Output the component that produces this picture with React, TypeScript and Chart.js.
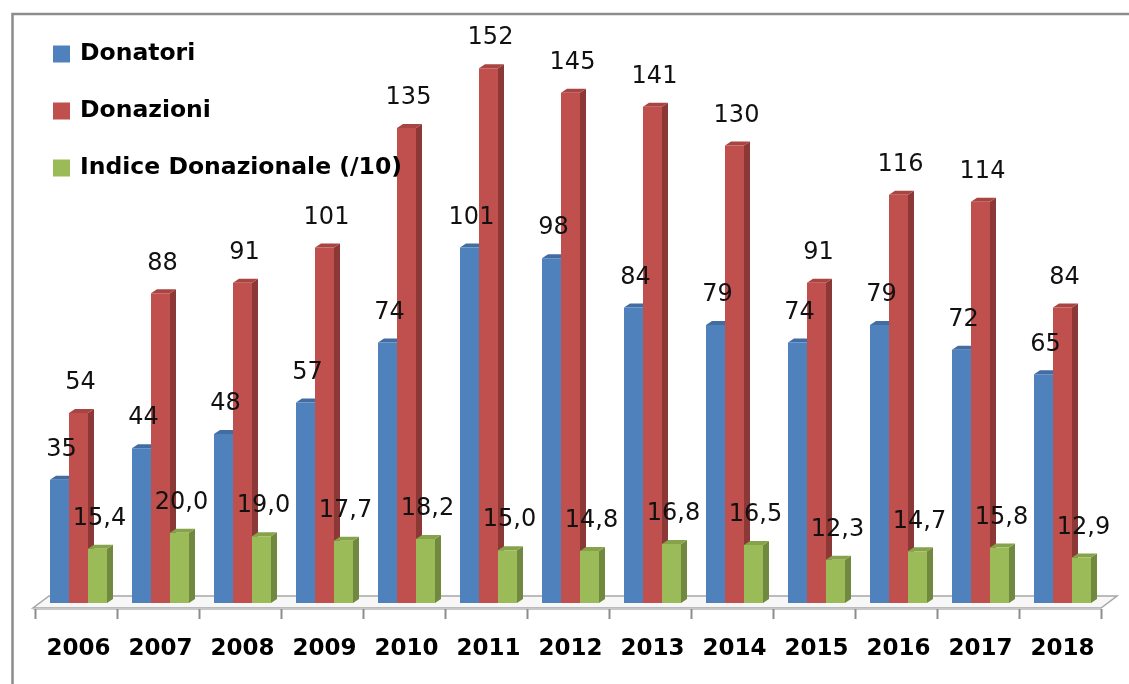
import React, { useEffect, useRef } from "react";
import { Chart, registerables } from "chart.js";

Chart.register(...registerables);

const years = ["2006", "2007", "2008", "2009", "2010", "2011", "2012", "2013", "2014", "2015", "2016", "2017", "2018"];
const donatori = [35, 44, 48, 57, 74, 101, 98, 84, 79, 74, 79, 72, 65];
const donazioni = [54, 88, 91, 101, 135, 152, 145, 141, 130, 91, 116, 114, 84];
const indice = [15.4, 20.0, 19.0, 17.7, 18.2, 15.0, 14.8, 16.8, 16.5, 12.3, 14.7, 15.8, 12.9];
const seriesNames = ["Donatori", "Donazioni", "Indice Donazionale (/10)"];
const decimals = [0, 0, 1];

const frontColors = ["#4F81BD", "#C0504D", "#9BBB59"];
const sideColors = ["#385D8A", "#8C3836", "#71893F"];
const topColors = ["#416DA3", "#A84442", "#86A34B"];

const FONT = "'DejaVu Sans', Verdana, sans-serif";
const DX = 6;
const DY = 4;

const framePlugin = {
  id: "frame",
  beforeDraw(chart: any) {
    const ctx = chart.ctx;
    ctx.save();
    ctx.strokeStyle = "#8c8c8c";
    ctx.lineWidth = 2.5;
    ctx.beginPath();
    ctx.moveTo(12.5, chart.height);
    ctx.lineTo(12.5, 14);
    ctx.lineTo(chart.width, 14);
    ctx.stroke();
    ctx.restore();
  },
};

const bars3dPlugin = {
  id: "bars3d",
  beforeDatasetsDraw(chart: any) {
    const ctx = chart.ctx;
    const xs = chart.scales.x;
    const area = chart.chartArea;
    const n = years.length;
    const cw = xs.getPixelForValue(1) - xs.getPixelForValue(0);
    const shift = 2.5;
    const L = xs.getPixelForValue(0) - cw / 2 - shift;
    const R = xs.getPixelForValue(n - 1) + cw / 2 - shift;
    const fy = area.bottom + 5;
    const fdx = 16;
    const fdy = 12;
    ctx.save();
    // floor top face
    ctx.beginPath();
    ctx.moveTo(L - 2, fy);
    ctx.lineTo(R, fy);
    ctx.lineTo(R + fdx, fy - fdy);
    ctx.lineTo(L - 2 + fdx, fy - fdy);
    ctx.closePath();
    ctx.fillStyle = "#f7f7f7";
    ctx.fill();
    ctx.strokeStyle = "#a6a6a6";
    ctx.lineWidth = 1.5;
    ctx.stroke();
    // floor front thickness
    ctx.fillStyle = "#c8c8c8";
    ctx.fillRect(L - 2, fy, R - L + 2, 2);
    // tick marks
    ctx.strokeStyle = "#8c8c8c";
    ctx.lineWidth = 2;
    for (let i = 0; i <= n; i++) {
      const x = Math.round(L + i * cw) + 0.5;
      ctx.beginPath();
      ctx.moveTo(x, fy + 1);
      ctx.lineTo(x, fy + 11);
      ctx.stroke();
    }
    // bar sides and tops
    chart.data.datasets.forEach((_ds: any, di: number) => {
      const meta = chart.getDatasetMeta(di);
      meta.data.forEach((el: any) => {
        const { x, y, base, width } = el.getProps(["x", "y", "base", "width"], true);
        const l = x - width / 2;
        const r = x + width / 2;
        ctx.beginPath();
        ctx.moveTo(r, y);
        ctx.lineTo(r + DX, y - DY);
        ctx.lineTo(r + DX, base - DY);
        ctx.lineTo(r, base);
        ctx.closePath();
        ctx.fillStyle = sideColors[di];
        ctx.fill();
        ctx.beginPath();
        ctx.moveTo(l, y);
        ctx.lineTo(l + DX, y - DY);
        ctx.lineTo(r + DX, y - DY);
        ctx.lineTo(r, y);
        ctx.closePath();
        ctx.fillStyle = topColors[di];
        ctx.fill();
      });
    });
    ctx.restore();
  },
  afterDatasetsDraw(chart: any) {
    const ctx = chart.ctx;
    ctx.save();
    ctx.font = `24px ${FONT}`;
    ctx.fillStyle = "#111111";
    ctx.textAlign = "center";
    ctx.textBaseline = "middle";
    chart.data.datasets.forEach((ds: any, di: number) => {
      const meta = chart.getDatasetMeta(di);
      meta.data.forEach((el: any, i: number) => {
        const { x, y } = el.getProps(["x", "y"], true);
        const v = ds.data[i] as number;
        const txt = v.toFixed(decimals[di]).replace(".", ",");
        ctx.fillText(txt, x + 2, y - 30);
      });
    });
    ctx.restore();
  },
};

const legendPlugin = {
  id: "customLegend",
  afterDraw(chart: any) {
    const ctx = chart.ctx;
    const rows = [54, 111, 168];
    ctx.save();
    ctx.font = `bold 23.5px ${FONT}`;
    ctx.textAlign = "left";
    ctx.textBaseline = "middle";
    seriesNames.forEach((name, i) => {
      ctx.fillStyle = frontColors[i];
      ctx.fillRect(53, rows[i] - 8.5, 17, 17);
      ctx.fillStyle = "#000000";
      ctx.fillText(name, 80, rows[i]);
    });
    ctx.restore();
  },
};

export default function App() {
  const canvasRef = useRef<HTMLCanvasElement | null>(null);

  useEffect(() => {
    if (!canvasRef.current) return;
    const chart = new Chart(canvasRef.current, {
      type: "bar",
      data: {
        labels: years,
        datasets: [
          { label: seriesNames[0], data: donatori, backgroundColor: frontColors[0], borderWidth: 0, categoryPercentage: 0.695, barPercentage: 1 },
          { label: seriesNames[1], data: donazioni, backgroundColor: frontColors[1], borderWidth: 0, categoryPercentage: 0.695, barPercentage: 1 },
          { label: seriesNames[2], data: indice, backgroundColor: frontColors[2], borderWidth: 0, categoryPercentage: 0.695, barPercentage: 1 },
        ],
      },
      options: {
        animation: false,
        responsive: true,
        maintainAspectRatio: false,
        layout: { padding: { left: 37.5, right: 25.5, top: 40, bottom: 0 } },
        plugins: { legend: { display: false }, tooltip: { enabled: false } },
        scales: {
          x: {
            grid: { display: false, drawTicks: false },
            border: { display: false },
            ticks: {
              color: "#000000",
              font: { family: FONT, size: 23, weight: "bold" },
              padding: 32,
              maxRotation: 0,
              autoSkip: false,
            },
            afterFit: (s: any) => {
              s.height = 81;
            },
          },
          y: { display: false, min: 0, max: 160 },
        },
      },
      plugins: [framePlugin, bars3dPlugin, legendPlugin],
    } as any);
    return () => chart.destroy();
  }, []);

  return (
    <div style={{ position: "fixed", left: 0, top: 0, width: 1129, height: 684, background: "#ffffff" }}>
      <canvas ref={canvasRef} />
    </div>
  );
}
